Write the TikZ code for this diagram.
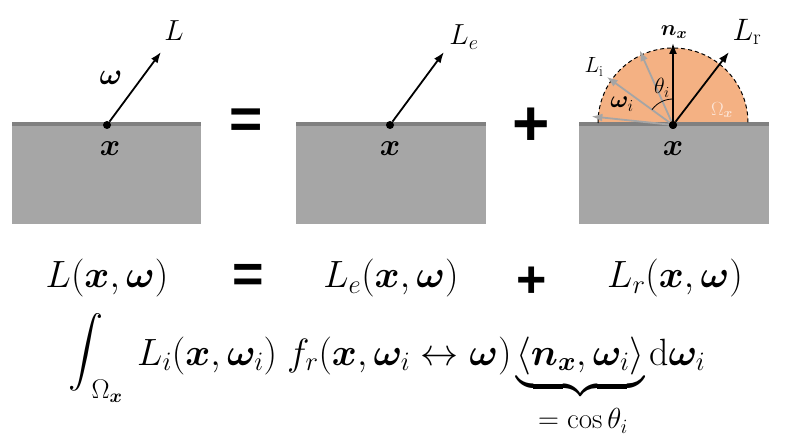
\RequirePackage{fix-cm}
\documentclass[tikz,border=0pt]{standalone}
\usepackage{amsmath}
\usepackage{bm}
\usepackage{fontspec}
\DeclareFontShape{OMX}{cmex}{m}{n}{<->cmex10}{}
\newfontfamily\opfont{Liberation Sans}
\usetikzlibrary{arrows.meta}
\definecolor{boxgray}{RGB}{166,166,166}
\definecolor{surfgray}{RGB}{128,128,128}
\definecolor{hemi}{RGB}{244,177,131}
\definecolor{arrowgray}{RGB}{165,165,165}
\definecolor{palelbl}{RGB}{252,228,214}
\begin{document}
\begin{tikzpicture}[x=1pt,y=1pt,
  arr/.style={line width=1.8pt,-{Latex[length=11pt,width=8pt]}},
  garr/.style={draw=arrowgray,line width=1.8pt,-{Latex[length=11pt,width=8pt]}},
  dot/.style={circle,fill=black,inner sep=0pt,minimum size=8pt},
  op/.style={font=\opfont\bfseries\fontsize{#1}{#1}\selectfont,inner sep=0pt},
  lbl/.style={inner sep=0pt},
  fs/.style={font=\fontsize{#1}{#1}\selectfont}]
\useasboundingbox (0,0) rectangle (787,445);
% hemisphere
\fill[hemi] (598,322) arc[start angle=180,end angle=0,radius=75] -- cycle;
% surfaces
\foreach \xa/\xb in {12/201,296/486,579/769}{
  \fill[boxgray] (\xa,221) rectangle (\xb,322);
  \fill[surfgray] (\xa,319) rectangle (\xb,322.5);
}
\draw[dashed,line width=1pt,dash pattern=on 4pt off 3pt] (598,322) arc[start angle=180,end angle=0,radius=75];
% points
\node[dot] (p1) at (107,320) {};
\node[dot] (p2) at (390,320) {};
\node[dot] (p3) at (673,320) {};
\coordinate (t1) at (161,393);
\coordinate (t2) at (444,393);
\coordinate (tr) at (729,393);
\coordinate (tn) at (673,402);
\coordinate (g1) at (639.6,394.9);
\coordinate (g2) at (606.7,368.2);
\coordinate (g3) at (591.4,328.6);
\draw[garr] (p3) -- (g1);
\draw[garr] (p3) -- (g2);
\draw[garr] (p3) -- (g3);
\draw[arr] (p1) -- (t1);
\draw[arr] (p2) -- (t2);
\draw[arr] (p3) -- (tr);
\draw[arr] (p3) -- (tn);
\draw[line width=0.8pt] (673,346) arc[start angle=90,end angle=144,radius=26];
\node[dot] at (p3) {};
% labels top
\node[lbl,fs=29] (lL) at (174,414) {$L$};
\node[lbl,fs=30] (lw) at (111,367) {$\bm\omega$};
\node[lbl,fs=31] (x1) at (110,296) {$\bm x$};
\node[lbl,fs=31] (x2) at (390,296) {$\bm x$};
\node[lbl,fs=31] (x3) at (673,296) {$\bm x$};
\node[lbl,fs=29] (lLe) at (464,408) {$L_e$};
\node[lbl,fs=22] (ln) at (674,413) {$\bm n_{\bm x}$};
\node[lbl,fs=31] (lLr) at (747,413) {$L_\mathrm{r}$};
\node[lbl,fs=22] (lLi) at (594,378) {$L_\mathrm{i}$};
\node[lbl,fs=24] (lwi) at (622,341) {$\bm\omega_i$};
\node[lbl,fs=22] (lth) at (662,357) {$\theta_i$};
\node[lbl,fs=19,text=palelbl] (lOm) at (722,335) {$\Omega_{\bm x}$};
\node[op=57] (eq1) at (246,321) {=};
\node[op=64] (pl1) at (531,318) {+};
% equation row
\node[lbl,fs=38] (e1) at (107,167) {$L(\bm x,\bm\omega)$};
\node[op=54] (eq2) at (248,167) {=};
\node[lbl,fs=38] (e2) at (391,167) {$L_e(\bm x,\bm\omega)$};
\node[op=52] (pl2) at (532,163) {+};
\node[lbl,fs=38] (e3) at (675,167) {$L_r(\bm x,\bm\omega)$};
% integral line
\node[lbl,fs=35] (i1) at (86,93) {$\displaystyle\int$};
\node[lbl,fs=27] (i0) at (107,54) {$\Omega_{\bm x}$};
\node[lbl,fs=38,anchor=base west] (i2) at (137,80) {$L_i(\bm x,\bm\omega_i)$};
\node[lbl,fs=38,anchor=base west] (i3) at (287,80) {$f_r(\bm x,\bm\omega_i\leftrightarrow\bm\omega)$};
\node[lbl,fs=38,anchor=base west] (i4) at (516,80) {$\underbrace{\langle\bm n_{\bm x},\bm\omega_i\rangle\rule[-0.42em]{0pt}{0.5em}}$};
\node[lbl,fs=38,anchor=base west] (i5) at (649,80) {$\mathrm{d}\bm\omega_i$};
\node[lbl,fs=29] (i6) at (583,24) {$=\cos\theta_i$};
\end{tikzpicture}
\end{document}
